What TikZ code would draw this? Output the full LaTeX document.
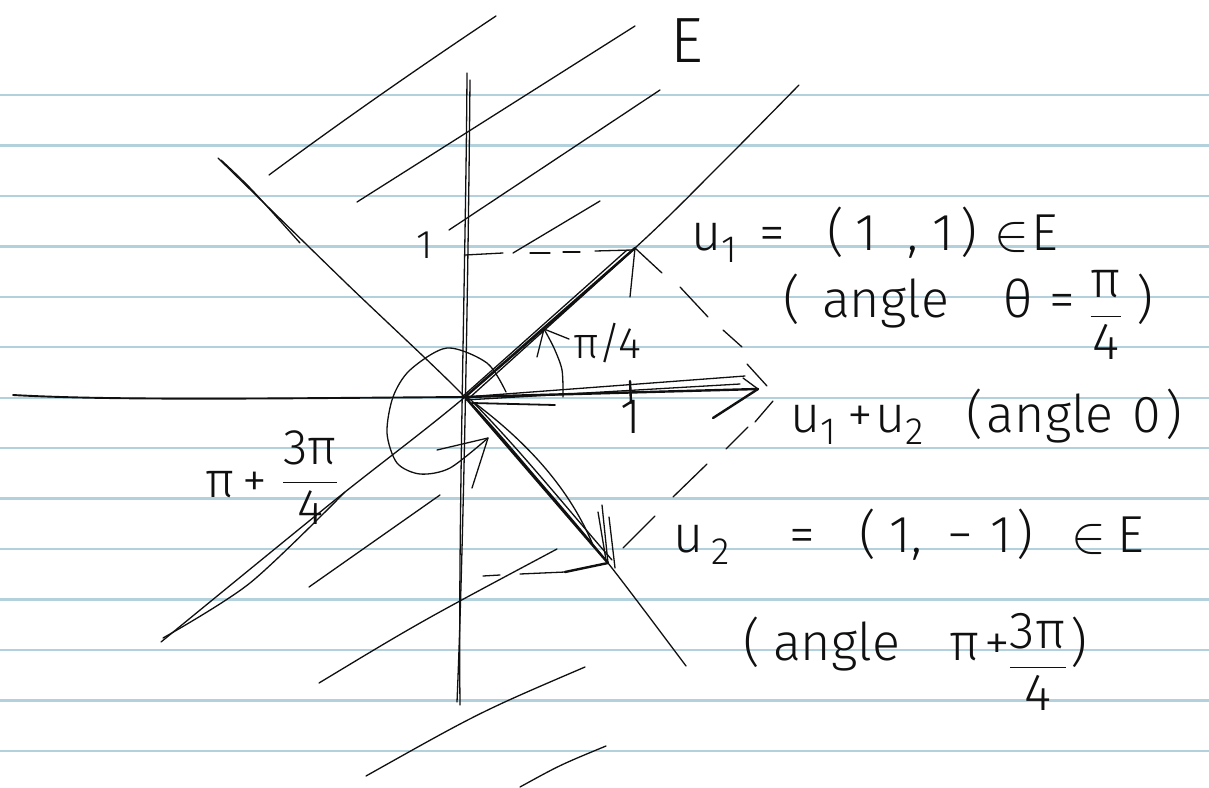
\RequirePackage{fix-cm}
\documentclass[tikz,border=0pt]{standalone}
\usepackage{fontspec}
\setmainfont{Fira Sans}[UprightFont=* Light]
\usetikzlibrary{calc}
\definecolor{paperblue}{HTML}{B3D1DD}
\definecolor{inkblack}{HTML}{101010}
\newcommand{\lowidx}[1]{\raisebox{-12pt}{\fontsize{38}{40}\selectfont #1}}
\newcommand{\hfrac}[3]{\raisebox{#1}{\setlength{\arrayrulewidth}{1.3pt}%
  \begin{tabular}[b]{@{}c@{}}#2\\\hline #3\end{tabular}}}
\newcommand{\elem}{\ensuremath{\in}}
\tikzset{
  ruling/.style={draw=paperblue, line width=2.4pt},
  ink/.style={draw=inkblack, line width=1.3pt, line cap=round, line join=round},
  inkthick/.style={ink, line width=2.4pt},
  hand/.style={font=\fontsize{52}{60}\selectfont, text=inkblack, inner sep=0pt,
               anchor=base west},
}

\begin{document}
\begin{tikzpicture}[x=1pt,y=-1pt]
\useasboundingbox (0,0) rectangle (1209,787);
\fill[white] (0,0) rectangle (1209,787);
% ruled paper
\foreach \k in {0,...,13}
  \draw[ruling] (0,{95+50.45*\k}) -- (1209,{95+50.45*\k});

\coordinate (O) at (465,397);
\coordinate (u1) at (635,248);
\coordinate (u12) at (758,389);
\coordinate (u2) at (608,563);

% axes
\draw[ink] (467,73) .. controls (466,250) and (458,520) .. (460,705);
\draw[ink] (470,80) .. controls (468,300) and (463,560) .. (457,702);
\draw[ink, line width=1.9pt] (13,395) .. controls (120,401) and (300,398) .. (O);

% the two lines of E
\draw[ink] plot[smooth] coordinates {(161,642) (335,500) (O) (u1) (720,165) (799,85)};
\draw[ink] plot[smooth] coordinates {(163,638) (250,583) (345,492)};
\draw[ink] plot[smooth] coordinates {(218,158) (345,282) (O) (540,482) (u2) (686,666)};
\draw[ink] plot[smooth] coordinates {(221,160) (252,190) (300,243)};

% hatching of E
\draw[ink] (269,175) .. controls (350,115) and (430,60) .. (496,16);
\draw[ink] (357,202) -- (635,26);
\draw[ink] (449,230) -- (660,90);
\draw[ink] (513,253) -- (600,201);
\draw[ink] (309,587) -- (440,495);
\draw[ink] (319,683) .. controls (420,622) .. (557,549);
\draw[ink] (366,776) .. controls (480,712) .. (585,667);
\draw[ink] (520,787) .. controls (560,765) .. (606,746);

% u1
\draw[inkthick] (O) -- (u1);
\draw[ink] ($(O)+(2,3)$) -- ($(u1)+(-4,4)$);
\draw[ink] ($(O)+(-3,0)$) -- ($(u1)+(-8,2)$);
\draw[ink] (630,297) -- (u1) -- (662,273);

% u1+u2
\draw[inkthick] (O) -- (u12);
\draw[ink] (O) -- (745,376);
\draw[ink] ($(O)+(0,3)$) -- (740,384);
\draw[ink, line width=1.8pt] (472,403) -- (555,405);
\draw[ink] (743,378) -- (u12);
\draw[inkthick] (713,418) -- (u12);
\draw[inkthick] (630,381) -- (631,403);

% u2
\draw[inkthick] (O) -- (u2);
\draw[ink] (470,399) .. controls (520,450) and (560,500) .. (612,560);
\draw[ink] (476,404) .. controls (530,445) and (570,490) .. (593,545);
\draw[ink] (602,505) -- (u2);
\draw[ink] (609,517) -- (615,568);
\draw[ink] (598,512) -- (606,560);
\draw[inkthick] (565,572) -- (u2);
\draw[ink] (483,576) -- (500,575);
\draw[ink] (520,574) -- (565,572);

% dashed guides
\draw[ink] (465,255) -- (503,253);
\draw[ink] (530,253) -- (550,253);
\draw[ink] (563,252) -- (580,252);
\draw[ink] (595,251) -- (633,250);
\draw[ink] (680,287) -- (708,317);
\draw[ink] (723,330) -- (742,347);
\draw[ink] (747,364) -- (767,386);
\draw[ink] (773,401) -- (755,422);
\draw[ink] (748,427) -- (726,449);
\draw[ink] (707,464) -- (673,497);
\draw[ink] (655,516) -- (623,548);

% angles
\draw[ink] plot[smooth] coordinates {(506,392) (487,363) (447,348) (410,370) (393,397)
  (387,433) (397,463) (420,474) (450,468) (488,438)};
\draw[ink] (437,450) -- (488,438) -- (472,488);
\draw[ink] plot[smooth] coordinates {(563,397) (562,370) (554,348) (544,329)};
\draw[ink] (537,357) -- (544,329) -- (569,339);

% labels
\node[hand, font=\fontsize{64}{68}\selectfont] (setE) at (670,62) {E};
\node[hand, font=\fontsize{40}{44}\selectfont] (oney) at (416,258) {1};
\node[hand, font=\fontsize{50}{56}\selectfont] (onex) at (620,433) {1};
\node[hand, font=\fontsize{44}{48}\selectfont] (quarter) at (573,358) {π/4};
\node[hand] (lblu1) at (691,250)
  {u\lowidx{1}\hspace{22pt}=\hspace{43pt}(\hspace{11pt}1\hspace{31pt},\hspace{14pt}1\hspace{6pt})\hspace{17pt}\elem\hspace{3pt}E};
\node[hand] (angu1) at (783,317)
  {(\hspace{22pt}angle\hspace{55pt}θ\hspace{16pt}=\hspace{16pt}\hfrac{-42pt}{π}{4}\hspace{15pt})};
\node[hand] (lblsum) at (790,432)
  {u\lowidx{1}\hspace{11pt}+\hspace{3pt}u\lowidx{2}\hspace{43pt}(\hspace{3pt}angle\hspace{19pt}0\hspace{4pt})};
\node[hand] (lblu2) at (673,552)
  {u\hspace{8pt}\lowidx{2}\hspace{60pt}=\hspace{44pt}(\hspace{14pt}1,\hspace{25pt}−\hspace{18pt}1\hspace{4pt})\hspace{38pt}\elem\hspace{12pt}E};
\node[hand] (angu2) at (743,660)
  {(\hspace{13pt}angle\hspace{50pt}π\hspace{4pt}+\hfrac{-50pt}{3π}{4}\hspace{5pt})};
\node[hand, font=\fontsize{50}{58}\selectfont] (lblleft) at (205,497)
  {π\hspace{8pt}+\hspace{16pt}\hfrac{-27pt}{3π}{4}};
\end{tikzpicture}
\end{document}
